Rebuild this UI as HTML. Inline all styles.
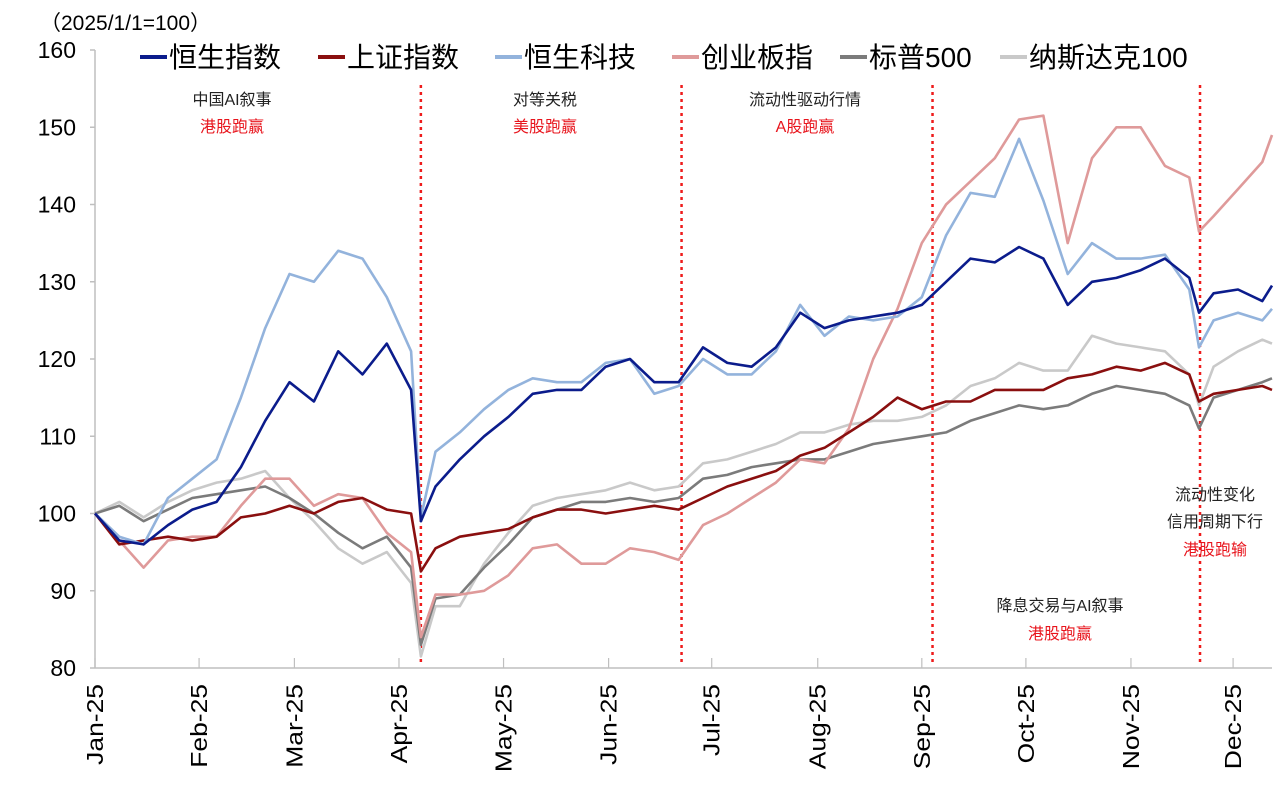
<!DOCTYPE html>
<html><head><meta charset="utf-8"><style>
body{margin:0;background:#fff;}
svg{display:block;font-family:"Liberation Sans","Noto Sans CJK SC",sans-serif;}
</style></head><body>
<svg id="chart" width="1287" height="792" viewBox="0 0 1287 792">
<text x="40" y="30" font-size="21" fill="#000">（2025/1/1=100）</text>
<g id="yaxis"></g>
<g id="xaxis"></g>
<g id="vlines"></g>
<g id="series"></g>
<g id="legend"></g>
<g font-size="16" text-anchor="middle">
<text x="232" y="105" fill="#222">中国AI叙事</text>
<text x="232" y="132" fill="#e8141c">港股跑赢</text>
<text x="545" y="105" fill="#222">对等关税</text>
<text x="545" y="132" fill="#e8141c">美股跑赢</text>
<text x="805" y="105" fill="#222">流动性驱动行情</text>
<text x="805" y="132" fill="#e8141c">A股跑赢</text>
<text x="1060" y="611" fill="#222">降息交易与AI叙事</text>
<text x="1060" y="639" fill="#e8141c">港股跑赢</text>
<text x="1215" y="500" fill="#222">流动性变化</text>
<text x="1215" y="527" fill="#222">信用周期下行</text>
<text x="1215" y="555" fill="#e8141c">港股跑输</text>
</g>
</svg>
<script>
const days=[0,5,10,15,20,25,30,35,40,45,50,55,60,65,67,70,75,80,85,90,95,100,105,110,115,120,125,130,135,140,145,150,155,160,165,170,175,180,185,190,195,200,205,210,215,220,225,227,230,235,240,242];
const monthLabels=["Jan-25","Feb-25","Mar-25","Apr-25","May-25","Jun-25","Jul-25","Aug-25","Sep-25","Oct-25","Nov-25","Dec-25"];
const monthDays=[0,21.4,41,62.5,84,105.6,126.8,148.6,170,191.4,213,234];
const yTicks=[80,90,100,110,120,130,140,150,160];
const dividerDays=[67,120.6,172.2,227.2];
const hsi=[100,96.5,96,98.5,100.5,101.5,106,112,117,114.5,121,118,122,116,99,103.5,107,110,112.5,115.5,116,116,119,120,117,117,121.5,119.5,119,121.5,126,124,125,125.5,126,127,130,133,132.5,134.5,133,127,130,130.5,131.5,133,130.5,126,128.5,129,127.5,129.5];
const hstech=[100,97,96,102,104.5,107,115,124,131,130,134,133,128,121,99.5,108,110.5,113.5,116,117.5,117,117,119.5,120,115.5,116.5,120,118,118,121,127,123,125.5,125,125.5,128,136,141.5,141,148.5,140.5,131,135,133,133,133.5,129,121.5,125,126,125,126.5];
const chinext=[100,96.5,93,96.5,97,97,101,104.5,104.5,101,102.5,102,97.5,95,84,89.5,89.5,90,92,95.5,96,93.5,93.5,95.5,95,94,98.5,100,102,104,107,106.5,111,120,126.5,135,140,143,146,151,151.5,135,146,150,150,145,143.5,136.5,138.5,142,145.5,149];
const sse=[100,96,96.5,97,96.5,97,99.5,100,101,100,101.5,102,100.5,100,92.5,95.5,97,97.5,98,99.5,100.5,100.5,100,100.5,101,100.5,102,103.5,104.5,105.5,107.5,108.5,110.5,112.5,115,113.5,114.5,114.5,116,116,116,117.5,118,119,118.5,119.5,118,114.5,115.5,116,116.5,116];
const spx=[100,101,99,100.5,102,102.5,103,103.5,102,100,97.5,95.5,97,93,83,89,89.5,93,96,99.5,100.5,101.5,101.5,102,101.5,102,104.5,105,106,106.5,107,107,108,109,109.5,110,110.5,112,113,114,113.5,114,115.5,116.5,116,115.5,114,111,115,116,117,117.5];
const ndx=[100,101.5,99.5,101.5,103,104,104.5,105.5,102,99,95.5,93.5,95,91,81.5,88,88,93.5,97.5,101,102,102.5,103,104,103,103.5,106.5,107,108,109,110.5,110.5,111.5,112,112,112.5,114,116.5,117.5,119.5,118.5,118.5,123,122,121.5,121,118,114,119,121,122.5,122];
const seriesNames=["纳斯达克100","标普500","创业板指","上证指数","恒生科技","恒生指数"];
const seriesColors=["#c9c9c9","#7b7b7b","#df9a9a","#8a0f0f","#93b3dc","#0b1c8c"];
const seriesData=[ndx,spx,chinext,sse,hstech,hsi];
const seriesKeys=["ndx","spx","chinext","sse","hstech","hsi"];
const legendOrder=[5,3,4,2,1,0];

const NS="http://www.w3.org/2000/svg";
const X0=95,X1=1272,Y0=668,Y1=50,DMAX=242;
function xs(d){return X0+(X1-X0)*d/DMAX;}
function ys(v){return Y0-(v-80)/(160-80)*(Y0-Y1);}
function mk(tag,attrs,parent){const e=document.createElementNS(NS,tag);for(const k in attrs)e.setAttribute(k,attrs[k]);parent.appendChild(e);return e;}

const ya=document.getElementById('yaxis');
let l=mk('line',{x1:X0,y1:Y1,x2:X0,y2:Y0,stroke:'#bfbfbf','stroke-width':1.5},ya);


yTicks.forEach(v=>{
  const t=mk('line',{x1:X0-5,y1:ys(v),x2:X0,y2:ys(v),stroke:'#bfbfbf','stroke-width':1.5},ya);
  
  
  const tx=mk('text',{x:76,y:ys(v)+8,'font-size':23,'text-anchor':'end',fill:'#000'},ya);
  tx.textContent=v;
  
  
});
const xa=document.getElementById('xaxis');
l=mk('line',{x1:X0,y1:Y0,x2:X1,y2:Y0,stroke:'#bfbfbf','stroke-width':1.5},xa);


monthDays.forEach((d,i)=>{
  const x=xs(d);
  const t=mk('line',{x1:x,y1:Y0-10,x2:x,y2:Y0,stroke:'#bfbfbf','stroke-width':1.2},xa);
  
  
  const tx=mk('text',{x:0,y:0,'font-size':23,'text-anchor':'end',fill:'#000',transform:`translate(${x+8},${Y0+16}) rotate(-90) scale(1.15,1)`},xa);
  tx.textContent=monthLabels[i];
  
  
});
const vg=document.getElementById('vlines');
dividerDays.forEach(d=>{
  const v=mk('line',{x1:xs(d),y1:85,x2:xs(d),y2:Y0-4,stroke:'#ee1c1c','stroke-width':2.5,'stroke-dasharray':'3 4'},vg);
  
  
});
const sg=document.getElementById('series');
seriesData.forEach((arr,i)=>{
  const pts=arr.map((v,j)=>xs(days[j]).toFixed(1)+','+ys(v).toFixed(1)).join(' ');
  const p=mk('polyline',{points:pts,fill:'none',stroke:seriesColors[i],'stroke-width':2.6,'stroke-linejoin':'round'},sg);
  
  
});
const lg=document.getElementById('legend');
const legX=[140,318,495,672,840,1000];
legendOrder.forEach((si,k)=>{
  const x=legX[k];
  const g=mk('g',{},lg);
  
  
  mk('line',{x1:x,y1:57,x2:x+27,y2:57,stroke:seriesColors[si],'stroke-width':4},g);
  const t=mk('text',{x:x+29,y:67,'font-size':28,fill:'#000'},g);
  t.textContent=seriesNames[si];
});
</script>
</body></html>
